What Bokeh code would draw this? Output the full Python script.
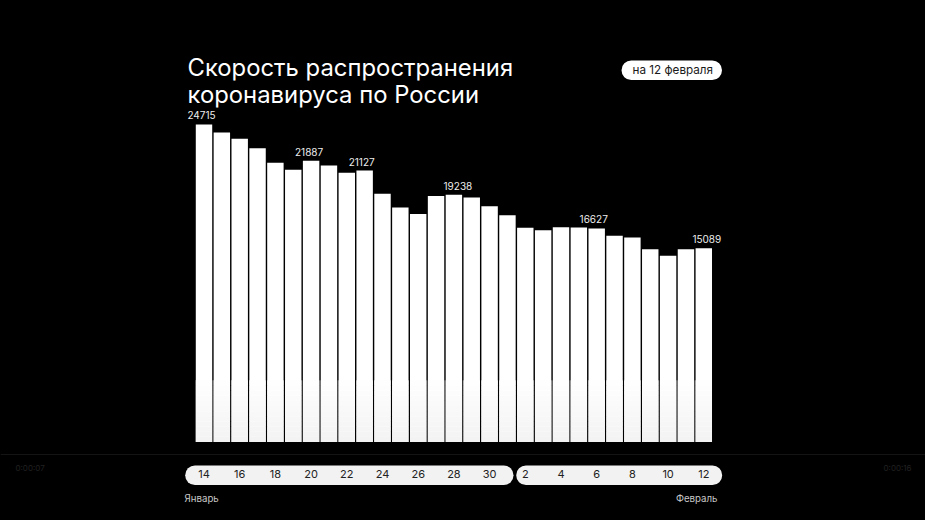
from bokeh.plotting import figure
from bokeh.models import FixedTicker, Range1d, ColumnDataSource, Span
from bokeh.core.properties import value
from bokeh.embed import file_html
from bokeh.resources import INLINE

TITLE_LINES = ["Скорость распространения", "коронавируса по России"]
BADGE = "на 12 февраля"
DAYS = [14, 15, 16, 17, 18, 19, 20, 21, 22, 23, 24, 25, 26, 27, 28, 29, 30,
        1, 2, 3, 4, 5, 6, 7, 8, 9, 10, 11, 12]
CASES = [24715, 24091, 23601, 22869, 21733, 21188, 21887, 21523, 20954, 21127,
         19320, 18253, 17747, 19148, 19238, 19032, 18354, 17654, 16673, 16486,
         16720, 16700, 16627, 16050, 15918, 15007, 14494, 15007, 15089]
LABELLED = [0, 6, 9, 14, 22, 28]
MONTHS = ["Январь", "Февраль"]
TIMES = ["0:00:07", "0:00:16"]

W, H = 925, 520
FONT = "Inter"
PITCH = 17.85        # px per bar
X0 = 203.5           # page px of the first bar centre
BASE = 441.5         # page px of the zero line
K = 0.012847         # px per case


def dx(px):
    return (px - X0) / PITCH


def dy(py):
    return (BASE - py) / K


p = figure(width=W, height=H, output_backend="svg", toolbar_location=None,
           x_range=Range1d(dx(0), dx(W)), y_range=Range1d(dy(H), dy(0)),
           background_fill_color="#000000", border_fill_color="#000000",
           outline_line_color=None, min_border=0, y_axis_type=None)
p.grid.visible = False

# faint player chrome behind the slide
p.add_layout(Span(location=dy(454), dimension="width", line_color="#141414", line_width=1))

idx = list(range(len(DAYS)))
p.vbar(x=idx, top=CASES, bottom=0, width=0.92, fill_color="#ffffff", line_color=None)
# soft fade towards the foot of the bars
FADE = ["#f3f3f3", "#f4f4f4", "#f5f5f5", "#f6f6f6", "#f7f7f7", "#f8f8f8",
        "#f9f9f9", "#fafafa", "#fbfbfb", "#fcfcfc", "#fdfdfd", "#fefefe"]
for step, shade in enumerate(FADE):
    p.vbar(x=idx, top=(step + 1) * 400, bottom=step * 400, width=0.92,
           fill_color=shade, line_color=None)

# pills behind the date axis
p.quad(left=[dx(184.7), dx(515.7)], right=[dx(513), dx(721.7)],
       bottom=[dy(484.5)] * 2, top=[dy(465)] * 2,
       fill_color="#f2f2f2", line_color=None, border_radius=10)

ax = p.xaxis[0]
ax.fixed_location = dy(465)
ax.ticker = FixedTicker(ticks=idx[::2])
ax.major_label_overrides = {i: str(DAYS[i]) for i in idx[::2]}
ax.axis_line_color = None
ax.major_tick_line_color = None
ax.minor_tick_line_color = None
ax.major_tick_out = 0
ax.major_label_standoff = 4
ax.major_label_text_font = FONT
ax.major_label_text_font_size = "11px"
ax.major_label_text_color = "#222222"

# value labels
shift = {0: -2.5, 6: -2, 9: -3, 14: 4, 22: -3, 28: 3}
src = ColumnDataSource(dict(x=LABELLED, y=[CASES[i] for i in LABELLED],
                            t=[str(CASES[i]) for i in LABELLED],
                            o=[shift[i] for i in LABELLED]))
p.text(x="x", y="y", text="t", source=src, x_offset="o", y_offset=-5,
       text_align="center", text_baseline="bottom", text_color="#ededed",
       text_font=value(FONT), text_font_size="10px")


def lab(text, px, py, size, color, align="left"):
    p.text(x=[dx(px)], y=[dy(py)], text=[text], text_font=value(FONT),
           text_font_size=size, text_color=color, text_align=align,
           text_baseline="middle")


lab(TITLE_LINES[0], 187, 67, "23.85px", "#ffffff")
lab(TITLE_LINES[1], 187, 94, "23.85px", "#ffffff")

p.quad(left=[dx(621)], right=[dx(721.5)], bottom=[dy(79.5)], top=[dy(60)],
       fill_color="#ffffff", line_color=None, border_radius=10)
lab(BADGE, 672.3, 69.7, "11.7px", "#1a1a1a", "center")

lab(MONTHS[0], 184, 498, "9.7px", "#c8c8c8")
lab(MONTHS[1], 717, 498, "9.7px", "#c8c8c8", "right")
lab(TIMES[0], 15, 467, "8px", "#202020")
lab(TIMES[1], 911, 467, "8px", "#202020", "right")

html = file_html(p, INLINE)
html = html.replace("<head>", "<head><style>html,body{background:#000;}</style>", 1)
open("out.html", "w").write(html)
